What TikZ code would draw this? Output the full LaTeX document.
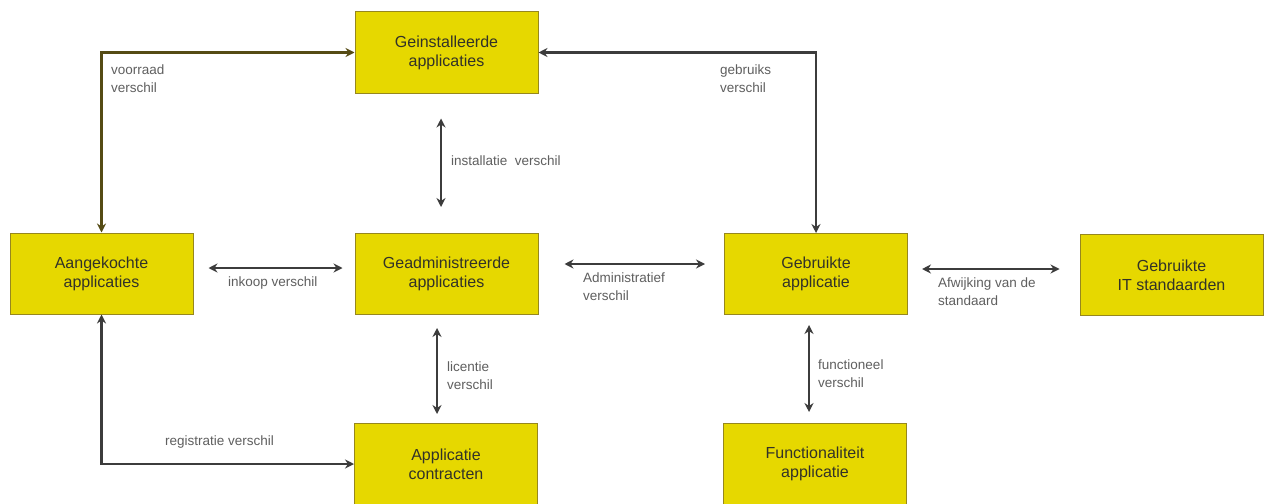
\documentclass[tikz,border=0pt]{standalone}
\usepackage{fontspec}
\setmainfont{Liberation Sans}
\usetikzlibrary{arrows.meta}
\definecolor{boxfill}{RGB}{230,216,0}
\definecolor{boxline}{RGB}{150,135,30}
\definecolor{boxtext}{RGB}{50,50,40}
\definecolor{lbl}{RGB}{95,95,95}
\definecolor{arr}{RGB}{60,60,60}
\definecolor{olive}{RGB}{85,75,20}
\tikzset{
  box/.style={draw=boxline, line width=1pt, fill=boxfill, minimum width=183pt, minimum height=81pt,
    inner sep=0pt, align=center, text=boxtext, font=\fontsize{16pt}{19pt}\selectfont},
  lab/.style={anchor=north west, inner sep=0pt, align=left, text=lbl, font=\fontsize{13.5pt}{17.5pt}\selectfont},
  conn/.style={draw=arr, line width=2.3pt, {Stealth[length=9pt,width=9pt]}-{Stealth[length=9pt,width=9pt]}},
}
\begin{document}
\begin{tikzpicture}[x=1pt,y=-1pt]
\useasboundingbox (0,0) rectangle (1265,503);
\clip (0,0) rectangle (1265,503);
\fill[white] (0,0) rectangle (1265,503);
% boxes
\node[box] (inst) at (446.5,52.5) {Geinstalleerde\\applicaties};
\node[box] (aang) at (101.5,273.5) {Aangekochte\\applicaties};
\node[box] (adm) at (446.5,274) {Geadministreerde\\applicaties};
\node[box] (contr) at (446,464) {Applicatie\\contracten};
\node[box] (gebr) at (816,274) {Gebruikte\\applicatie};
\node[box] (std) at (1171.5,275) {Gebruikte\\IT standaarden};
\node[box] (func) at (815,464) {Functionaliteit\\applicatie};
% connectors
\draw[conn, draw=olive] (aang.north) |- (inst.west);
\draw[conn] (inst.east) -| (gebr.north);
\draw[conn] (aang.south) |- (contr.west);
\draw[conn, shorten <=25pt, shorten >=26pt] ([xshift=-5.5pt]inst.south) -- ([xshift=-5.5pt]inst.south |- adm.north);
\draw[conn, shorten <=15pt, shorten >=12pt] ([yshift=5.5pt]aang.east) -- ([yshift=5.5pt]aang.east -| adm.west);
\draw[conn, shorten <=26pt, shorten >=19pt] ([yshift=10pt]adm.east) -- ([yshift=10pt]adm.east -| gebr.west);
\draw[conn, shorten <=14pt, shorten >=20pt] ([yshift=5pt]gebr.east) -- ([yshift=5pt]gebr.east -| std.west);
\draw[conn, shorten <=13pt, shorten >=9pt] ([xshift=-9.5pt]adm.south) -- ([xshift=-9.5pt]adm.south |- contr.north);
\draw[conn, shorten <=10pt, shorten >=11pt] ([xshift=-7pt]gebr.south) -- ([xshift=-7pt]gebr.south |- func.north);
% labels
\node[lab] (l1) at (111,65) {voorraad\\verschil};
\node[lab] (l2) at (720,65) {gebruiks\\verschil};
\node[lab] (l3) at (451,156) {installatie\ \ verschil};
\node[lab] (l4) at (228,277) {inkoop verschil};
\node[lab] (l5) at (583,273) {Administratief\\verschil};
\node[lab] (l6) at (938,278) {Afwijking van de\\standaard};
\node[lab] (l7) at (447,362) {licentie\\verschil};
\node[lab] (l8) at (818,360) {functioneel\\verschil};
\node[lab] (l9) at (165,436) {registratie verschil};
\end{tikzpicture}
\end{document}
